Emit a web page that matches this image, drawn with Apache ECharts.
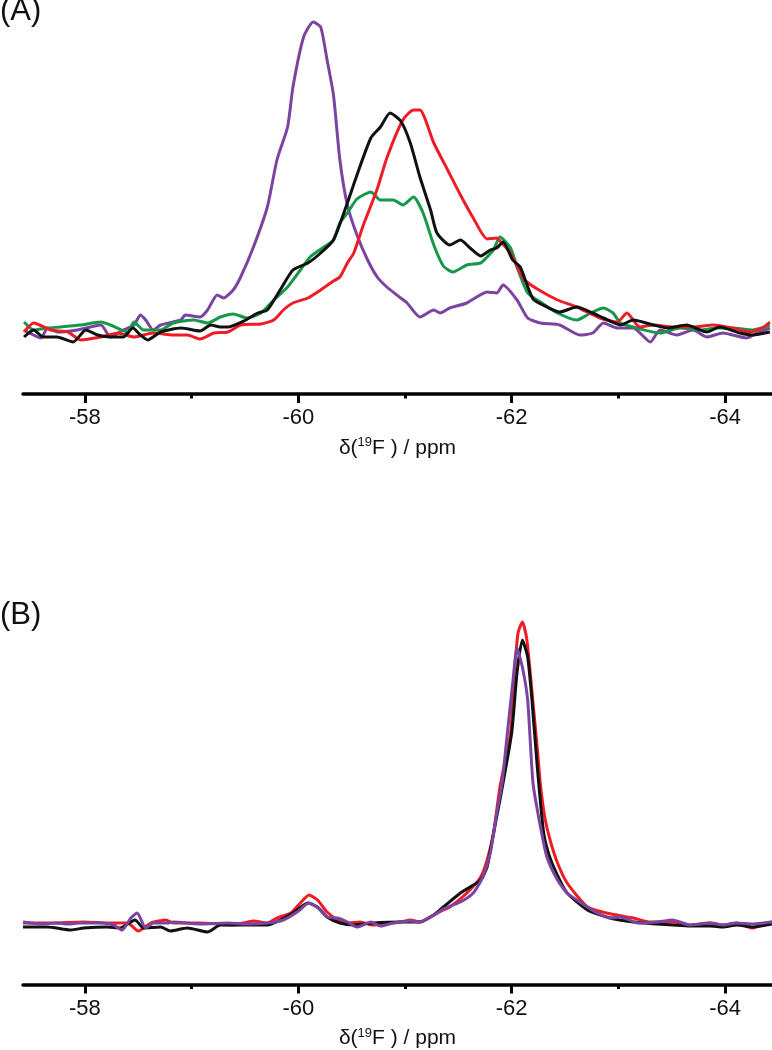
<!DOCTYPE html>
<html>
<head>
<meta charset="utf-8">
<script src="https://cdn.jsdelivr.net/npm/echarts@6/dist/echarts.min.js"></script>
<style>
html,body{margin:0;padding:0;background:#fff;}
#c{width:772px;height:1050px;}
</style>
</head>
<body>
<div id="c"></div>
<script>
// x range (ppm), axis ticks
const xMin = -64.44, xMax = -57.42;
const majorTicks = [-58, -60, -62, -64];
const minorTicks = [-59, -61, -63];
const axisTitle = '{n|δ(}{s|19}{n|F ) / ppm}';
const panelLabels = ['(A)', '(B)'];

// Panel A: [ppm, intensity]
const purpleA = [[-57.43,0],[-57.59,-8],[-57.65,2],[-57.75,-2],[-57.93,0],[-58.15,5],[-58.24,-7],[-58.36,0],[-58.46,5],[-58.52,15],[-58.57,10],[-58.64,0],[-58.71,5],[-58.90,10],[-58.94,15],[-59.08,13],[-59.15,20],[-59.24,35],[-59.30,32],[-59.39,40],[-59.46,53],[-59.58,83],[-59.71,123],[-59.80,170],[-59.90,203],[-59.95,243],[-60.05,293],[-60.14,308],[-60.21,303],[-60.27,270],[-60.33,235],[-60.39,170],[-60.46,125],[-60.55,95],[-60.65,70],[-60.74,53],[-60.83,43],[-60.96,32],[-61.02,27],[-61.14,13],[-61.27,20],[-61.33,17],[-61.42,22],[-61.58,27],[-61.77,38],[-61.86,37],[-61.92,45],[-62.05,30],[-62.15,12],[-62.27,7],[-62.45,5],[-62.64,-5],[-62.76,-3],[-62.86,7],[-62.99,2],[-63.14,2],[-63.30,-12],[-63.39,0],[-63.55,-5],[-63.70,0],[-63.83,-7],[-63.98,-3],[-64.20,-8],[-64.30,-3],[-64.42,2]];
const greenA = [[-57.43,8],[-57.52,0],[-57.65,2],[-57.77,3],[-57.96,5],[-58.15,8],[-58.24,5],[-58.40,-2],[-58.46,8],[-58.55,0],[-58.71,0],[-58.83,7],[-59.02,10],[-59.15,7],[-59.27,13],[-59.39,16],[-59.52,12],[-59.65,17],[-59.77,30],[-59.90,43],[-60.02,60],[-60.11,73],[-60.24,83],[-60.33,90],[-60.39,107],[-60.46,117],[-60.55,131],[-60.68,138],[-60.77,130],[-60.89,130],[-60.98,125],[-61.08,133],[-61.17,117],[-61.27,85],[-61.36,64],[-61.45,58],[-61.58,65],[-61.71,67],[-61.77,73],[-61.83,80],[-61.89,93],[-61.99,82],[-62.05,63],[-62.15,37],[-62.27,28],[-62.43,17],[-62.61,10],[-62.74,17],[-62.86,22],[-62.95,17],[-63.02,7],[-63.14,3],[-63.39,-3],[-63.58,2],[-63.77,0],[-63.92,2],[-64.07,2],[-64.26,0],[-64.42,5]];
const redA = [[-57.43,-2],[-57.52,7],[-57.68,0],[-57.84,-2],[-57.96,-10],[-58.15,-7],[-58.31,-3],[-58.46,-7],[-58.64,-3],[-58.83,-5],[-58.96,-5],[-59.08,-9],[-59.21,-3],[-59.34,-2],[-59.46,5],[-59.65,6],[-59.77,10],[-59.86,20],[-59.95,27],[-60.09,32],[-60.21,40],[-60.33,49],[-60.39,53],[-60.46,67],[-60.52,77],[-60.61,105],[-60.74,141],[-60.83,172],[-60.98,210],[-61.08,220],[-61.14,220],[-61.27,187],[-61.40,160],[-61.52,135],[-61.64,112],[-61.77,91],[-61.86,92],[-61.89,89],[-61.99,77],[-62.11,51],[-62.24,41],[-62.43,30],[-62.61,23],[-62.83,12],[-62.99,8],[-63.08,17],[-63.20,3],[-63.33,5],[-63.51,3],[-63.70,3],[-63.89,5],[-64.07,2],[-64.23,-2],[-64.35,2],[-64.42,8]];
const blackA = [[-57.43,-7],[-57.52,0],[-57.61,-7],[-57.74,-7],[-57.89,-12],[-58.01,0],[-58.12,-5],[-58.24,-7],[-58.36,-7],[-58.45,2],[-58.52,-5],[-58.59,-10],[-58.71,-2],[-58.90,2],[-59.08,-1],[-59.18,5],[-59.27,3],[-59.34,3],[-59.49,9],[-59.62,17],[-59.71,20],[-59.83,40],[-59.95,60],[-60.09,67],[-60.21,77],[-60.33,90],[-60.46,127],[-60.55,155],[-60.68,192],[-60.77,203],[-60.86,217],[-60.96,209],[-61.05,187],[-61.14,153],[-61.24,120],[-61.30,97],[-61.42,85],[-61.52,90],[-61.61,82],[-61.71,74],[-61.80,80],[-61.86,82],[-61.92,88],[-62.01,70],[-62.08,63],[-62.20,31],[-62.33,23],[-62.45,18],[-62.61,23],[-62.76,17],[-62.86,12],[-63.02,5],[-63.14,10],[-63.33,5],[-63.46,2],[-63.64,5],[-63.83,-2],[-63.95,3],[-64.14,-3],[-64.26,-5],[-64.42,-2]];

// Panel B: [ppm, intensity]
const redB = [[-57.42,0],[-57.68,0],[-57.99,1],[-58.24,0],[-58.40,0],[-58.50,-8],[-58.62,0],[-58.76,3],[-58.83,0],[-59.08,0],[-59.39,-2],[-59.58,2],[-59.71,0],[-59.80,5],[-59.93,10],[-60.02,20],[-60.10,28],[-60.18,23],[-60.27,11],[-60.37,3],[-60.46,0],[-60.58,1],[-60.70,-2],[-60.96,1],[-61.05,3],[-61.14,1],[-61.27,8],[-61.36,13],[-61.42,16],[-61.58,30],[-61.71,46],[-61.77,63],[-61.83,90],[-61.89,136],[-61.99,190],[-62.03,256],[-62.06,290],[-62.10,301],[-62.14,285],[-62.17,255],[-62.20,220],[-62.24,175],[-62.27,138],[-62.31,106],[-62.36,83],[-62.43,60],[-62.52,40],[-62.71,16],[-62.89,10],[-63.14,5],[-63.30,1],[-63.36,1],[-63.51,1],[-63.67,-2],[-63.86,0],[-63.98,-2],[-64.11,0],[-64.26,-5],[-64.39,0],[-64.44,1]];
const blackB = [[-57.42,-4],[-57.65,-4],[-57.87,-7],[-57.99,-5],[-58.21,-4],[-58.33,-5],[-58.47,3],[-58.55,-5],[-58.71,-4],[-58.80,-8],[-58.96,-5],[-59.15,-9],[-59.27,-2],[-59.46,-2],[-59.71,-2],[-59.83,3],[-59.95,10],[-60.09,20],[-60.18,16],[-60.27,6],[-60.39,0],[-60.52,-2],[-60.70,0],[-60.96,1],[-61.14,1],[-61.27,8],[-61.36,16],[-61.52,30],[-61.61,36],[-61.71,43],[-61.77,56],[-61.80,73],[-61.89,123],[-62.00,190],[-62.05,250],[-62.10,283],[-62.15,266],[-62.19,223],[-62.24,156],[-62.30,90],[-62.36,65],[-62.45,43],[-62.52,30],[-62.71,13],[-62.92,5],[-63.14,1],[-63.36,-1],[-63.51,-2],[-63.67,-3],[-63.86,-3],[-63.98,-4],[-64.11,-2],[-64.26,-4],[-64.44,-1]];
const purpleB = [[-57.42,1],[-57.59,-1],[-57.73,0],[-57.84,-1],[-57.96,0],[-58.15,0],[-58.27,-2],[-58.35,-7],[-58.43,5],[-58.49,10],[-58.57,-5],[-58.64,0],[-58.77,0],[-58.83,1],[-59.08,-1],[-59.34,0],[-59.52,-1],[-59.71,0],[-59.86,3],[-59.99,11],[-60.10,20],[-60.21,13],[-60.27,6],[-60.37,5],[-60.46,1],[-60.55,-4],[-60.68,1],[-60.77,-3],[-60.89,0],[-61.05,2],[-61.14,1],[-61.27,8],[-61.36,14],[-61.52,21],[-61.64,30],[-61.73,46],[-61.80,70],[-61.86,110],[-61.91,140],[-61.96,190],[-62.01,240],[-62.05,275],[-62.10,256],[-62.15,223],[-62.20,140],[-62.27,96],[-62.33,66],[-62.43,43],[-62.52,30],[-62.71,16],[-62.80,10],[-62.92,5],[-63.02,6],[-63.18,0],[-63.36,1],[-63.51,3],[-63.67,-2],[-63.86,0],[-63.98,-2],[-64.11,0],[-64.26,-1],[-64.44,1]];

const FONT = '"Liberation Sans", Arial, Helvetica, sans-serif';
const C = {purple:'#7b44a1', green:'#14994a', red:'#ee1d25', black:'#111111'};

function mainX(grid){
  return {
    type:'value', gridIndex:grid, min:xMin, max:xMax, inverse:true, position:'bottom',
    axisLine:{show:true, onZero:false, lineStyle:{color:'#000', width:3.5}},
    axisTick:{show:true, customValues:majorTicks, length:9, lineStyle:{color:'#000', width:3}},
    axisLabel:{show:true, customValues:majorTicks, margin:13, fontSize:22, color:'#111', fontFamily:FONT},
    splitLine:{show:false},
    name:axisTitle, nameLocation:'middle', nameGap:42,
    nameTextStyle:{color:'#111', fontFamily:FONT, verticalAlign:'top',
      rich:{n:{fontSize:21, fontFamily:FONT, color:'#111', lineHeight:24},
            s:{fontSize:13, fontFamily:FONT, color:'#111', verticalAlign:'top', lineHeight:24}}}
  };
}
function minorX(grid){
  return {
    type:'value', gridIndex:grid, min:xMin, max:xMax, inverse:true, position:'bottom',
    axisLine:{show:false, onZero:false},
    axisTick:{show:true, customValues:minorTicks, length:4.5, lineStyle:{color:'#000', width:3}},
    axisLabel:{show:false}, splitLine:{show:false}
  };
}
function hiddenY(grid, mn, mx){
  return {type:'value', gridIndex:grid, min:mn, max:mx, show:false, splitLine:{show:false}};
}
function line(name, data, color, xi, yi, z){
  return {name:name, type:'line', data:data, xAxisIndex:xi, yAxisIndex:yi, showSymbol:false,
    smooth:0.2, z:z, lineStyle:{color:color, width:3}, itemStyle:{color:color}, animation:false};
}

const chart = echarts.init(document.getElementById('c'), null, {renderer:'canvas'});
chart.setOption({
  backgroundColor:'#fff',
  animation:false,
  grid:[
    {left:23, right:0, top:10, height:384},
    {left:23, right:0, top:10, height:384},
    {left:23, right:0, top:600, height:384.5},
    {left:23, right:0, top:600, height:384.5}
  ],
  xAxis:[mainX(0), minorX(1), mainX(2), minorX(3)],
  yAxis:[hiddenY(0,-64,320), hiddenY(1,0,1), hiddenY(2,-61.5,323), hiddenY(3,0,1)],
  graphic:[
    {type:'text', left:0, top:-4, style:{text:panelLabels[0], font:'31px '+FONT, fill:'#111'}},
    {type:'text', left:0, top:600, style:{text:panelLabels[1], font:'31px '+FONT, fill:'#111'}}
  ],
  series:[
    line('purple A', purpleA, C.purple, 0, 0, 2),
    line('green A', greenA, C.green, 0, 0, 3),
    line('red A', redA, C.red, 0, 0, 4),
    line('black A', blackA, C.black, 0, 0, 5),
    line('red B', redB, C.red, 2, 2, 2),
    line('black B', blackB, C.black, 2, 2, 3),
    line('purple B', purpleB, C.purple, 2, 2, 4)
  ]
});
</script>
</body>
</html>
